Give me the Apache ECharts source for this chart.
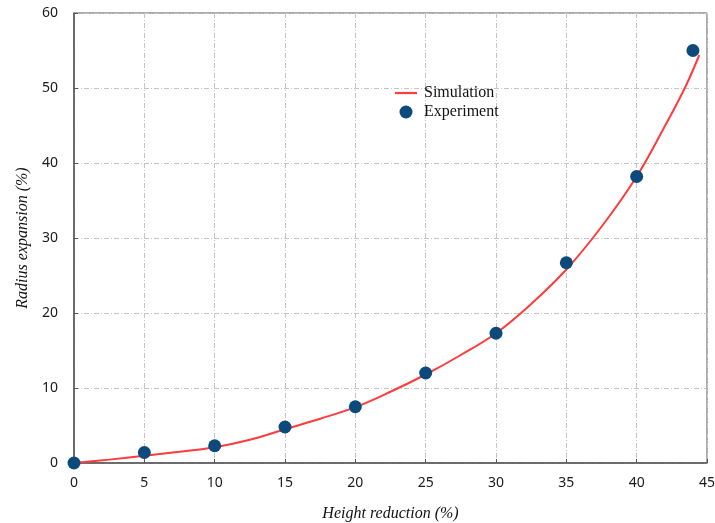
<!DOCTYPE html>
<html><head><meta charset="utf-8">
<script src="https://cdn.jsdelivr.net/npm/echarts@6/dist/echarts.min.js"></script>
<style>html,body{margin:0;padding:0;background:#fff}#c{width:715px;height:523px}</style>
</head><body><div id="c"></div>
<script>
const simX = [0, 2.5, 5, 7.5, 10, 12.5, 15, 17.5, 20, 22.5, 25, 27.5, 30, 32.5, 35, 37.5, 40, 42, 43.45, 44.45];
const simY = [0, 0.45, 0.97, 1.5, 2.1, 3.1, 4.5, 5.9, 7.45, 9.5, 11.8, 14.4, 17.3, 21.2, 25.8, 31.5, 38.2, 44.9, 50.1, 54.4];
const expX = [0, 5, 10, 15, 20, 25, 30, 35, 40, 44];
const expY = [0, 1.4, 2.3, 4.8, 7.5, 12.0, 17.3, 26.7, 38.2, 55.0];
const xTicks = [0, 5, 10, 15, 20, 25, 30, 35, 40, 45];
const yTicks = [0, 10, 20, 30, 40, 50, 60];

const chart = echarts.init(document.getElementById('c'));
const gridLine = {show: true, lineStyle: {color: '#c4c4c4', width: 1, type: [5, 2, 1, 2]}};
chart.setOption({
  animation: false,
  grid: {left: 74, top: 13, right: 8, bottom: 60, outerBoundsMode: 'none', containLabel: false,
    show: true, borderColor: '#555', borderWidth: 1, backgroundColor: 'transparent'},
  legend: {
    orient: 'vertical', left: 390, top: 80, itemGap: 3, itemWidth: 22, itemHeight: 13,
    textStyle: {fontFamily: 'Liberation Serif', fontSize: 16, color: '#111', padding: [0, 0, 0, 2]},
    data: [
      {name: 'Simulation', icon: 'path://M0,5L20,5L20,7L0,7Z'},
      {name: 'Experiment', icon: 'circle'}
    ]
  },
  xAxis: {
    type: 'value', min: 0, max: 45, interval: 5,
    name: 'Height reduction (%)', nameLocation: 'middle', nameGap: 43,
    nameTextStyle: {fontFamily: 'Liberation Serif', fontStyle: 'italic', fontSize: 16, color: '#111'},
    axisLine: {show: true, lineStyle: {color: '#555', width: 1.5}},
    axisTick: {show: true, inside: true, length: 4, lineStyle: {color: '#555'}},
    axisLabel: {margin: 13, fontFamily: 'Noto Sans', fontSize: 14, color: '#1a1a1a',
      formatter: v => xTicks.includes(v) ? String(v) : ''},
    splitLine: gridLine
  },
  yAxis: {
    type: 'value', min: 0, max: 60, interval: 10,
    name: 'Radius expansion (%)', nameLocation: 'middle', nameGap: 43, nameRotate: 90,
    nameTextStyle: {fontFamily: 'Liberation Serif', fontStyle: 'italic', fontSize: 16, color: '#111'},
    axisLine: {show: true, lineStyle: {color: '#555', width: 1.5}},
    axisTick: {show: true, inside: true, length: 4, lineStyle: {color: '#555'}},
    axisLabel: {margin: 16, fontFamily: 'Noto Sans', fontSize: 14, color: '#1a1a1a',
      formatter: v => yTicks.includes(v) ? String(v) : ''},
    splitLine: gridLine
  },
  series: [
    {
      name: 'Simulation', type: 'line', smooth: 0.4, showSymbol: false, symbol: 'none',
      data: simX.map((x, i) => [x, simY[i]]),
      lineStyle: {color: '#ff3b3b', width: 2}, itemStyle: {color: '#ff3b3b'}, z: 2
    },
    {
      name: 'Experiment', type: 'scatter', symbolSize: 13,
      data: expX.map((x, i) => [x, expY[i]]),
      itemStyle: {color: '#0d4a7c', opacity: 1}, z: 3
    }
  ]
});
</script></body></html>
